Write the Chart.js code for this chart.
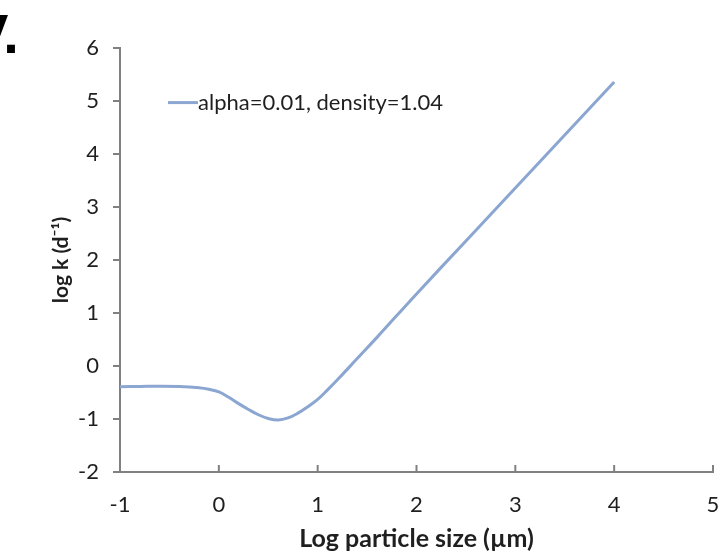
<!DOCTYPE html>
<html>
<head>
<meta charset="utf-8">
<script src="https://cdn.jsdelivr.net/npm/chart.js@4"></script>
<style>
  html, body { margin: 0; padding: 0; background: #fff; }
  #wrap { width: 720px; height: 555px; }
</style>
</head>
<body>
<div id="wrap"><canvas id="chart" width="720" height="555"></canvas></div>
<script>
const CHART = document.getElementById("chart").getContext("2d");

let logSize = [-1, -0.8, -0.6, -0.4, -0.2, -0.1, 0, 0.1, 0.2, 0.3, 0.4, 0.5, 0.6, 0.7, 0.8, 0.9, 1.0, 1.1, 1.2, 1.4, 1.6, 2, 2.5, 3, 3.5, 4];
let logK = [-0.39, -0.385, -0.38, -0.385, -0.41, -0.44, -0.49, -0.59, -0.71, -0.82, -0.92, -0.99, -1.02, -0.98, -0.89, -0.77, -0.63, -0.45, -0.26, 0.14, 0.54, 1.36, 2.36, 3.36, 4.36, 5.36];
let seriesLabel = "alpha=0.01, density=1.04";
let xTitle = "Log particle size (\u00b5m)";
let yTitle = "log k (d\u207b\u00b9)";
let panelLabel = "V.";

const AXIS = "#808080";
const LINE = "#8ba6d1";
const FONT = "Lato";

let points = logSize.map(function (x, i) {
    return { x: x, y: logK[i] };
});

// x ticks point inward, legend sits in the plot, panel letter top left
const extras = {
    id: "extras",
    afterDraw(chart) {
        const ctx = chart.ctx;
        const xs = chart.scales.x;
        const area = chart.chartArea;
        ctx.save();
        ctx.strokeStyle = AXIS;
        ctx.lineWidth = 2;
        xs.ticks.forEach(function (t) {
            if (t.value === xs.min) return;
            const px = xs.getPixelForValue(t.value);
            ctx.beginPath();
            ctx.moveTo(px, area.bottom);
            ctx.lineTo(px, area.bottom - 7);
            ctx.stroke();
        });

        const ds = chart.data.datasets[0];
        const lx = 168;
        const ly = chart.scales.y.getPixelForValue(4.97);
        ctx.strokeStyle = ds.borderColor;
        ctx.lineWidth = 3;
        ctx.beginPath();
        ctx.moveTo(lx, ly);
        ctx.lineTo(lx + 30, ly);
        ctx.stroke();
        ctx.fillStyle = "#1f1f1f";
        ctx.font = "22px " + FONT;
        ctx.textBaseline = "middle";
        ctx.textAlign = "left";
        ctx.fillText(ds.label, lx + 30, ly);

        ctx.fillStyle = "#000";
        ctx.font = "bold 56px 'Liberation Sans'";
        ctx.textBaseline = "alphabetic";
        ctx.fillText(panelLabel, -29, 53);
        ctx.restore();
    }
};

let lineChart = new Chart(CHART, {
    type: "line",
    data: {
        datasets: [
            {
                label: seriesLabel,
                data: points,
                borderColor: LINE,
                backgroundColor: LINE,
                borderWidth: 3,
                pointRadius: 0,
                tension: 0.4,
                fill: false
            }
        ]
    },
    options: {
        responsive: false,
        animation: false,
        layout: { padding: { top: 48, right: 7, bottom: 0, left: 0 } },
        plugins: {
            legend: { display: false },
            tooltip: { enabled: false }
        },
        scales: {
            x: {
                type: "linear",
                min: -1,
                max: 5,
                ticks: { stepSize: 1, color: "#1f1f1f", font: { family: FONT, size: 22 }, padding: 20 },
                grid: { drawOnChartArea: false, drawTicks: false },
                border: { color: AXIS, width: 2 },
                title: { display: true, text: xTitle, color: "#1f1f1f", font: { family: FONT, size: 25, weight: "bold" }, padding: { top: 0, bottom: 1 } },
                afterFit: function (scale) {
                    scale.height = 83;
                    scale.paddingLeft = 0;
                    scale.paddingRight = 0;
                }
            },
            y: {
                min: -2,
                max: 6,
                ticks: { stepSize: 1, color: "#1f1f1f", font: { family: FONT, size: 22 }, padding: 14 },
                grid: { drawOnChartArea: false, drawTicks: true, tickLength: 7, color: AXIS, lineWidth: 2 },
                border: { color: AXIS, width: 2 },
                title: { display: true, text: yTitle, color: "#1f1f1f", font: { family: FONT, size: 21, weight: "bold" }, padding: { top: 49, bottom: 0 } },
                afterFit: function (scale) { scale.width = 120; }
            }
        }
    },
    plugins: [extras]
});
</script>
</body>
</html>
